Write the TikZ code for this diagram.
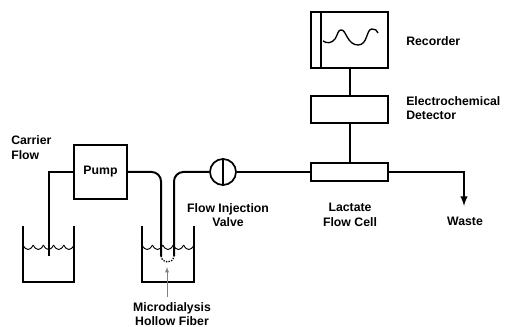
\documentclass[tikz,border=0pt]{standalone}
\usepackage{fontspec}
\setmainfont{Liberation Sans}
\usetikzlibrary{arrows}
\usetikzlibrary{calc}
\tikzset{
    pipe/.style   = {line width=1.5pt, black},
    vessel/.style = {line width=1pt, black},
    box/.style    = {draw, line width=1.3pt, inner sep=0pt},
    tag/.style    = {inner sep=0pt, align=center, font=\fontsize{9.2}{11}\selectfont\bfseries}
}

\begin{document}
\begin{tikzpicture}[x=0.75pt, y=-0.75pt]
    \useasboundingbox (0,0) rectangle (505,327);

    \coordinate (LeftTip)   at (49,256);
    \coordinate (FiberIn)   at (161,256);
    \coordinate (FiberOut)  at (174,256);
    \coordinate (WasteEnd)  at (464,206);
    \coordinate (LeaderTop) at (167,267);
    \coordinate (LeaderEnd) at (167,297);

    \node [box, minimum width=53*0.75pt, minimum height=54*0.75pt, font=\fontsize{9.2}{11}\selectfont\bfseries] (Pump) at (100.5,172) {Pump};
    \node [box, circle, minimum size=26*0.75pt] (Valve) at (223,172) {};
    \node [box, minimum width=77*0.75pt, minimum height=18*0.75pt] (Cell) at (349.5,172) {};
    \node [box, minimum width=77*0.75pt, minimum height=27*0.75pt] (Detector) at (349.5,109.5) {};
    \node [box, minimum width=77*0.75pt, minimum height=56*0.75pt] (Recorder) at (349.5,40) {};

    \node [tag, align=left, anchor=west] (CarrierTag) at (11,147.5) {Carrier\\Flow};
    \node [tag] (ValveTag) at (228,215) {Flow Injection\\Valve};
    \node [tag] (CellTag) at (350,215) {Lactate\\Flow Cell};
    \node [tag] (WasteTag) at (465,221) {Waste};
    \node [tag] (FiberTag) at (172,314) {Microdialysis\\Hollow Fiber};
    \node [tag, anchor=west] (RecorderTag) at (406,41) {Recorder};
    \node [tag, align=left, anchor=west] (DetectorTag) at (406,108) {Electrochemical\\Detector};

    % Beakers
    \draw [vessel] (23,226) -- (23,282) -- (74,282) -- (74,226);
    \draw [vessel] (142,226) -- (142,282) -- (194,282) -- (194,226);

    % Water surface
    \foreach \i in {0,...,4} {
        \draw [vessel, line width=0.7pt] (23+10.2*\i,245) .. controls +(3,6) and +(-3,6) .. +(10.2,0);
        \draw [vessel, line width=0.7pt] (142+10.4*\i,245) .. controls +(3,6) and +(-3,6) .. +(10.4,0);
    }

    % Tubing
    \draw [pipe] (Pump.west) -| (LeftTip);
    \draw [pipe, rounded corners=7pt] (Pump.east) -| (FiberIn);
    \draw [pipe, rounded corners=7pt] (FiberOut) |- (Valve.west);
    \draw [pipe] (Valve.east) -- (Cell.west);
    \draw [pipe, -latex] (Cell.east) -| (WasteEnd);
    \draw [pipe] (Cell.north) -- (Detector.south);
    \draw [pipe] (Detector.north) -- (Recorder.south);

    % Valve bar, recorder strip and trace
    \draw [vessel] (Valve.north) -- (Valve.south);
    \draw [vessel] ($(Recorder.north west) + (11,0)$) -- ($(Recorder.south west) + (11,0)$);
    \draw [vessel] (323,41) .. controls (327,44) and (332,43) .. (335,39)
        .. controls (338,34) and (338,30) .. (341,30)
        .. controls (346,29) and (347,45) .. (358,45)
        .. controls (368,45) and (366,29) .. (372,29)
        .. controls (375,29) and (377,30) .. (378,33);

    % Hollow fiber and its leader
    \draw [vessel, densely dotted] (FiberIn) .. controls +(1,8) and +(-1,8) .. (FiberOut);
    \draw [thin, gray, -latex] (LeaderEnd) -- (LeaderTop);
\end{tikzpicture}
\end{document}
